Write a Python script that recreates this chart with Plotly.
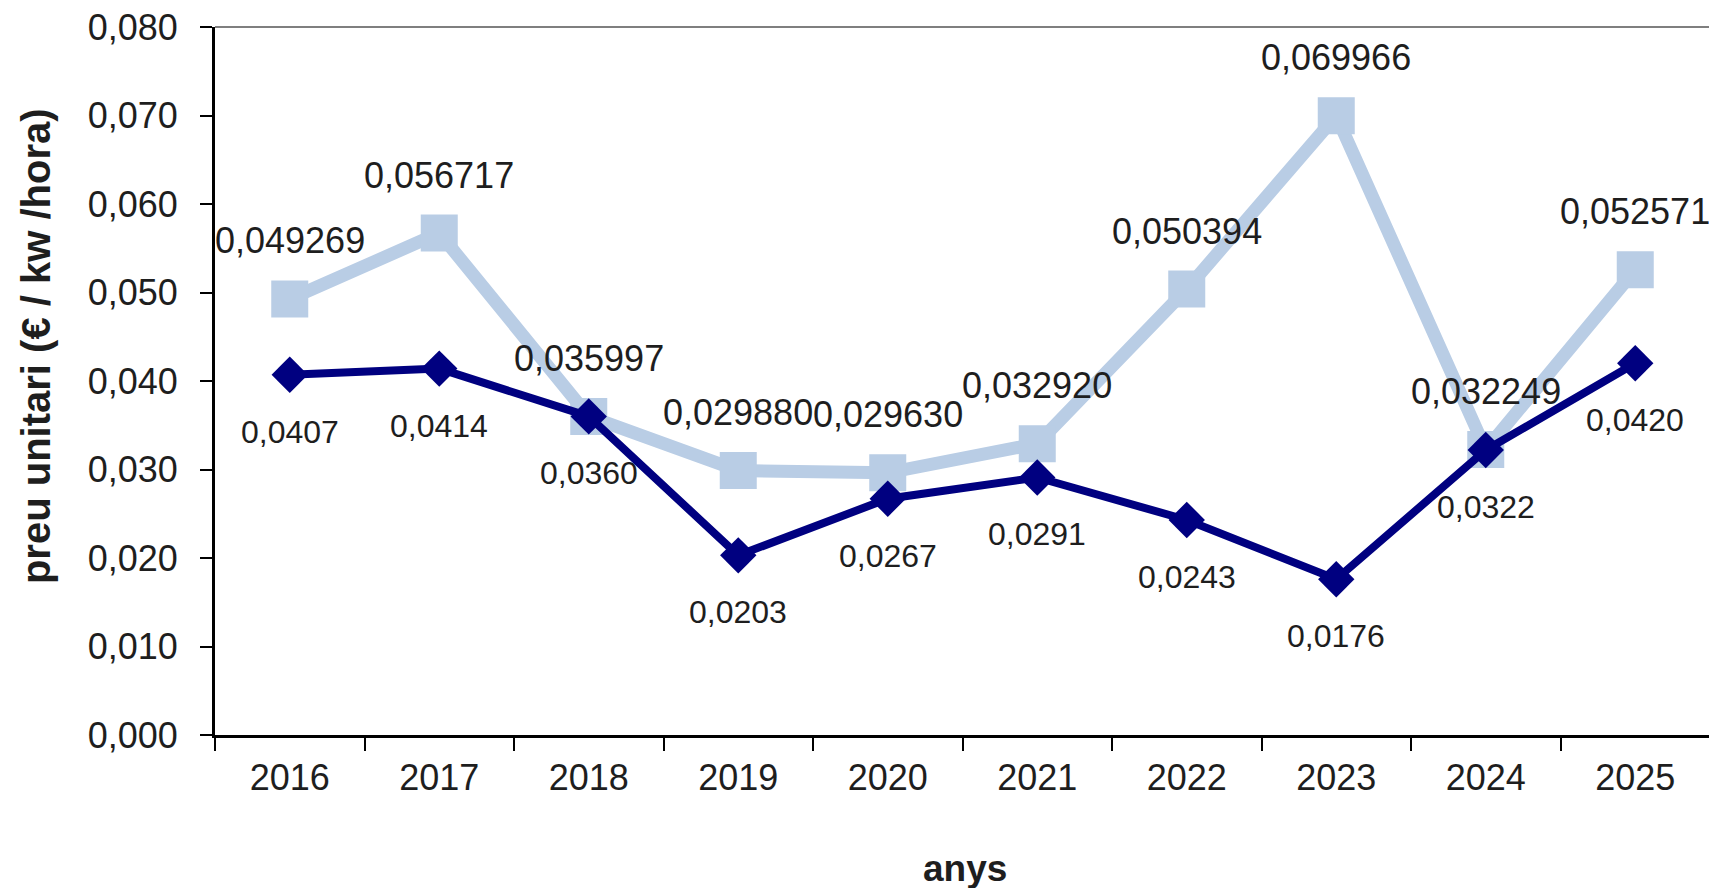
import plotly.graph_objects as go

years = ["2016", "2017", "2018", "2019", "2020", "2021", "2022", "2023", "2024", "2025"]
light_vals = [0.049269, 0.056717, 0.035997, 0.029880, 0.029630, 0.032920, 0.050394, 0.069966, 0.032249, 0.052571]
dark_vals = [0.0407, 0.0414, 0.0360, 0.0203, 0.0267, 0.0291, 0.0243, 0.0176, 0.0322, 0.0420]
y_ticks = [0.0, 0.01, 0.02, 0.03, 0.04, 0.05, 0.06, 0.07, 0.08]

light_text = [f"{v:.6f}".replace(".", ",") for v in light_vals]
dark_text = [f"{v:.4f}".replace(".", ",") for v in dark_vals]

FONT = "Liberation Sans, Arial, sans-serif"
TXT = "#1e1e1e"
LIGHT = "#B9CDE5"
DARK = "#000080"

fig = go.Figure()
fig.add_trace(go.Scatter(
    x=years, y=light_vals, mode="lines+markers",
    line=dict(color=LIGHT, width=13),
    marker=dict(symbol="square", size=37, color=LIGHT),
    showlegend=False, hoverinfo="skip"))
fig.add_trace(go.Scatter(
    x=years, y=dark_vals, mode="lines+markers",
    line=dict(color=DARK, width=8),
    marker=dict(symbol="diamond", size=28, color=DARK),
    showlegend=False, hoverinfo="skip"))

ann = []
for i, (v, t) in enumerate(zip(light_vals, light_text)):
    ann.append(dict(x=i, y=v, text=t, showarrow=False, xanchor="center", yanchor="middle",
                    yshift=58, font=dict(family=FONT, size=36, color=TXT)))
for i, (v, t) in enumerate(zip(dark_vals, dark_text)):
    ann.append(dict(x=i, y=v, text=t, showarrow=False, xanchor="center", yanchor="middle",
                    yshift=-57, font=dict(family=FONT, size=32, color=TXT)))
ann.append(dict(xref="paper", yref="paper", x=-0.1197, y=0.5494, text="<b>preu unitari (€ / kw /hora)</b>",
                textangle=-90, showarrow=False, xanchor="center", yanchor="middle",
                font=dict(family=FONT, size=40, color=TXT)))
ann.append(dict(xref="paper", yref="paper", x=0.5017, y=-0.188, text="<b>anys</b>",
                showarrow=False, xanchor="center", yanchor="middle",
                font=dict(family=FONT, size=37, color=TXT)))

# page body has an 8px margin: size the figure so the plot area lands where the reference has it
fig.update_layout(
    width=1709, height=880,
    margin=dict(l=207, r=7, t=19, b=153, autoexpand=False),
    paper_bgcolor="white", plot_bgcolor="white",
    separators=",.",
    annotations=ann,
    shapes=[
        dict(type="line", xref="paper", yref="paper", x0=0, x1=1, y0=1, y1=1,
             line=dict(color="#7f7f7f", width=2), layer="above"),
        dict(type="line", xref="paper", yref="paper", x0=1, x1=1, y0=0, y1=1,
             line=dict(color="#7f7f7f", width=2), layer="above"),
    ],
    font=dict(family=FONT, color=TXT),
)
fig.update_xaxes(
    type="category", range=[-0.5, len(years) - 0.5], tickson="boundaries",
    showgrid=False, zeroline=False, automargin=False,
    showline=True, linecolor="black", linewidth=3,
    ticks="outside", ticklen=13, tickwidth=2, tickcolor="black", tickangle=0,
    ticklabelstandoff=9,
    tickfont=dict(family=FONT, size=36, color=TXT),
)
fig.update_yaxes(
    range=[0, 0.08], tickvals=y_ticks, tickformat=".3f", showgrid=False, zeroline=False,
    automargin=False,
    showline=True, linecolor="black", linewidth=3,
    ticks="outside", ticklen=12, tickwidth=2, tickcolor="black",
    ticklabelstandoff=15, ticklabeloverflow="allow",
    tickfont=dict(family=FONT, size=36, color=TXT),
)
fig.write_html("out.html")
